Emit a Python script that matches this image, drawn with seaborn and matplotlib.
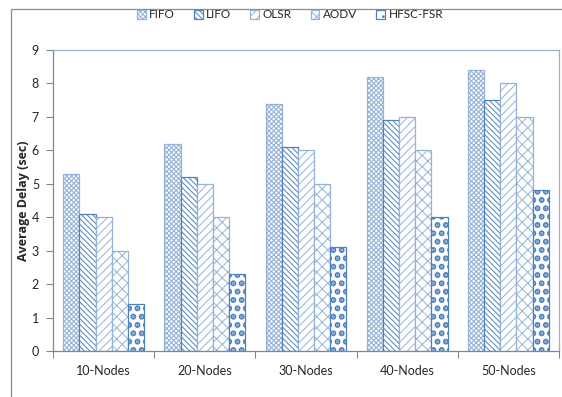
import matplotlib
matplotlib.use("Agg")
import matplotlib.pyplot as plt
from matplotlib.patches import Rectangle
import seaborn as sns
import pandas as pd

# Average delay (sec) per network size and queueing/routing scheme
nodes = ["10-Nodes", "20-Nodes", "30-Nodes", "40-Nodes", "50-Nodes"]
protocols = ["FIFO", "LIFO", "OLSR", "AODV", "HFSC-FSR"]
fifo = [5.3, 6.2, 7.4, 8.2, 8.4]
lifo = [4.1, 5.2, 6.1, 6.9, 7.5]
olsr = [4.0, 5.0, 6.0, 7.0, 8.0]
aodv = [3.0, 4.0, 5.0, 6.0, 7.0]
hfsc_fsr = [1.4, 2.3, 3.1, 4.0, 4.8]
y_ticks = [0, 1, 2, 3, 4, 5, 6, 7, 8, 9]

series = dict(zip(protocols, [fifo, lifo, olsr, aodv, hfsc_fsr]))
df = pd.DataFrame(
    [(n, p, v) for p in protocols for n, v in zip(nodes, series[p])],
    columns=["nodes", "protocol", "delay"],
)

sns.set_theme(style="white")
plt.rcParams["font.family"] = ["Lato", "DejaVu Sans"]
plt.rcParams["hatch.linewidth"] = 0.7

blue = "#4F81BD"
light = "#95B3D7"
gray = "#868686"

# pattern, hatch colour, border colour, hatch line width
hatches = {
    "FIFO": ("xxxxxxx", light, blue, 0.8),
    "LIFO": ("\\\\\\\\\\\\", blue, blue, 0.7),
    "OLSR": ("////", light, blue, 0.7),
    "AODV": ("xxx", light, blue, 0.7),
    "HFSC-FSR": ("..", blue, blue, 3.0),
}

fig = plt.figure(figsize=(5.62, 3.97), dpi=100)
ax = fig.add_axes([53 / 562, 1 - 351 / 397, (559 - 53) / 562, (351 - 50) / 397])

sns.barplot(data=df, x="nodes", y="delay", hue="protocol", order=nodes,
            hue_order=protocols, color="white", width=0.8, ax=ax,
            saturation=1, legend=True)


def style_patch(p, name, scale=1.0):
    hatch, hcol, ecol, hlw = hatches[name]
    p.set_facecolor("white")
    p.set_hatch(hatch)
    if hasattr(p, "set_hatchcolor"):
        p.set_hatchcolor(hcol)
        p.set_edgecolor(ecol)
    else:
        p.set_edgecolor(hcol)
    p.set_linewidth(0.9)
    if hasattr(p, "set_hatch_linewidth"):
        p.set_hatch_linewidth(hlw * scale)


for name, cont in zip(protocols, ax.containers):
    for p in cont.patches:
        style_patch(p, name)

handles, labels = ax.get_legend_handles_labels()
ax.legend_.remove()
for h, name in zip(handles, labels):
    style_patch(h, name, scale=0.6)
fig.legend(handles, labels, loc="center", bbox_to_anchor=(290 / 562, 1 - 15 / 397),
           ncol=5, frameon=False, fontsize=8.5, handlelength=0.75, handleheight=0.75,
           handletextpad=0.3, columnspacing=1.6)

ax.set_ylim(0, 9)
ax.set_xlim(-0.5, 4.5)
ax.set_yticks(y_ticks)
ax.set_ylabel("Average Delay (sec)", fontsize=9, fontweight="bold", labelpad=1,
              family=["Open Sans", "DejaVu Sans"])
ax.set_xlabel("")
ax.tick_params(axis="y", labelsize=9, length=5, width=0.8, color=gray, direction="out",
               left=True, pad=5, labelcolor="#262626")
ax.tick_params(axis="x", which="major", length=0, labelsize=9, pad=10, labelcolor="#262626")
ax.set_xticks([-0.5, 0.5, 1.5, 2.5, 3.5, 4.5], minor=True)
ax.tick_params(axis="x", which="minor", length=5, width=0.8, color=gray, direction="out", bottom=True)

for side in ["left", "bottom"]:
    ax.spines[side].set_color(gray)
    ax.spines[side].set_linewidth(0.9)
for side in ["top", "right"]:
    ax.spines[side].set_color(light)
    ax.spines[side].set_linewidth(0.9)

# Chart-area border running off the canvas on the right and bottom
fig.add_artist(Rectangle((11 / 562, -0.1), 1.2, 1.1 - 9 / 397, transform=fig.transFigure,
                         fill=False, edgecolor="#8c8c8c", linewidth=0.9, clip_on=False))

fig.savefig("out.png", dpi=100)
